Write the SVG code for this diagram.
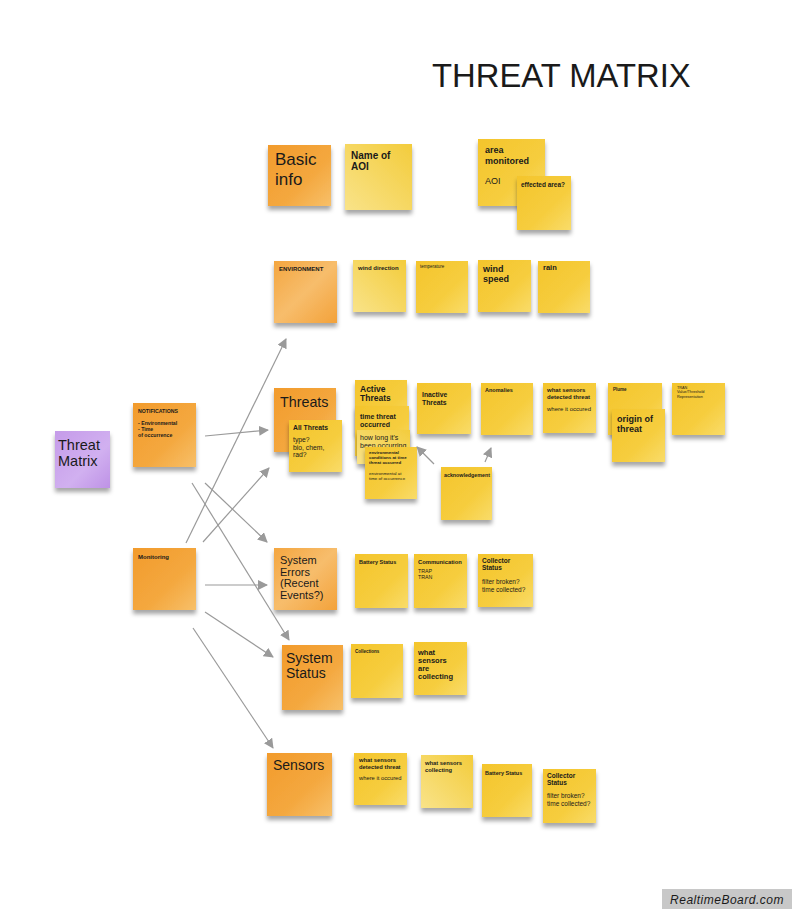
<svg xmlns="http://www.w3.org/2000/svg" width="800" height="919" viewBox="0 0 800 919">
<defs>
<linearGradient id="go" x1="0" y1="0" x2="1" y2="1"><stop offset="0" stop-color="#f29b2c"/><stop offset="0.6" stop-color="#f4a83f"/><stop offset="1" stop-color="#f7c06a"/></linearGradient>
<linearGradient id="go2" x1="0" y1="0" x2="1" y2="1"><stop offset="0" stop-color="#f4a640"/><stop offset="0.5" stop-color="#f7bd6c"/><stop offset="1" stop-color="#f3a23a"/></linearGradient>
<linearGradient id="gy" x1="0" y1="0" x2="1" y2="1"><stop offset="0" stop-color="#f4c52c"/><stop offset="0.6" stop-color="#f6cd3e"/><stop offset="1" stop-color="#f9dc6a"/></linearGradient>
<linearGradient id="gl" x1="1" y1="0" x2="0" y2="1"><stop offset="0" stop-color="#f3cc3c"/><stop offset="1" stop-color="#f9e389"/></linearGradient>
<linearGradient id="gp" x1="0" y1="0" x2="1" y2="1"><stop offset="0" stop-color="#c59be9"/><stop offset="0.6" stop-color="#d1b0f0"/><stop offset="1" stop-color="#be92e6"/></linearGradient>
<filter id="sh" x="-20%" y="-20%" width="140%" height="150%"><feDropShadow dx="0" dy="4" stdDeviation="2.2" flood-color="#000" flood-opacity="0.35"/></filter>
<marker id="ah" viewBox="0 0 10 10" refX="9" refY="5" markerWidth="10" markerHeight="10" markerUnits="userSpaceOnUse" orient="auto"><path d="M0,0 L10,5 L0,10 z" fill="#9a9a9a"/></marker>
<style>
.o{fill:url(#go);filter:url(#sh)}
.o2{fill:url(#go2);filter:url(#sh)}
.y{fill:url(#gy);filter:url(#sh)}
.l{fill:url(#gl);filter:url(#sh)}
.p{fill:url(#gp);filter:url(#sh)}
text{font-family:"Liberation Sans",Arial,sans-serif;fill:#1a1a1a}
.b{font-weight:bold}
.c line{stroke:#9a9a9a;stroke-width:1.2;marker-end:url(#ah)}
</style>
</defs>
<rect width="800" height="919" fill="#ffffff"/>
<text x="432" y="87" font-size="32.8" fill="#111">THREAT MATRIX</text>

<g id="basic-info"><rect class="o" x="268" y="145" width="63" height="61"/><text x="275" y="165" font-size="17">Basic</text><text x="275" y="184.5" font-size="17">info</text></g>
<g id="name-of-aoi"><rect class="l" x="345" y="144" width="67" height="66"/><text class="b" x="351" y="159" font-size="10">Name of</text><text class="b" x="351" y="170" font-size="10">AOI</text></g>
<g id="area-monitored"><rect class="y" x="478" y="139" width="67" height="67"/><text class="b" x="485" y="153" font-size="9">area</text><text class="b" x="485" y="163.5" font-size="9">monitored</text><text x="485" y="184" font-size="9">AOI</text></g>
<g id="effected-area"><rect class="y" x="517" y="176" width="54" height="54"/><text class="b" x="521" y="187" font-size="6.5">effected area?</text></g>

<g id="environment"><rect class="o2" x="274" y="261" width="63" height="62"/><text class="b" x="279" y="271" font-size="6">ENVIRONMENT</text></g>
<g id="wind-direction"><rect class="l" x="353" y="260" width="53" height="52"/><text class="b" x="358" y="270" font-size="6">wind direction</text></g>
<g id="temperature"><rect class="y" x="416" y="261" width="52" height="52"/><text x="420" y="268" font-size="4.5">temperature</text></g>
<g id="wind-speed"><rect class="y" x="478" y="260" width="53" height="52"/><text class="b" x="483" y="272" font-size="9">wind</text><text class="b" x="483" y="282" font-size="9">speed</text></g>
<g id="rain"><rect class="y" x="538" y="261" width="52" height="52"/><text class="b" x="543" y="270" font-size="7.5">rain</text></g>

<g id="threats"><rect class="o" x="274" y="388" width="62" height="64"/><text x="280" y="407" font-size="14.3">Threats</text></g>
<g id="all-threats"><rect class="y" x="289" y="420" width="53" height="52"/><text class="b" x="293" y="430" font-size="6.8">All Threats</text><text x="293" y="442" font-size="6.8">type?</text><text x="293" y="449.5" font-size="6.8">bio, chem,</text><text x="293" y="457" font-size="6.8">rad?</text></g>
<g id="active-threats"><rect class="y" x="355" y="380" width="52" height="54"/><text class="b" x="360" y="392" font-size="8.5">Active</text><text class="b" x="360" y="401" font-size="8.5">Threats</text></g>
<g id="time-threat-occurred"><rect class="y" x="355" y="406" width="54" height="50"/><text class="b" x="360" y="419" font-size="7">time threat</text><text class="b" x="360" y="426.5" font-size="7">occurred</text></g>
<g id="how-long"><rect class="l" x="357" y="430" width="53" height="34"/><text x="360" y="440" font-size="7">how long it's</text><text x="360" y="447.5" font-size="7">been occurring</text></g>
<g id="env-conditions"><rect class="y" x="365" y="447" width="52" height="52"/><text class="b" x="369" y="454" font-size="4.4">environmental</text><text class="b" x="369" y="459" font-size="4.4">conditions at time</text><text class="b" x="369" y="464" font-size="4.4">threat occurred</text><text x="369" y="475" font-size="4.4" fill="#444">environmental at</text><text x="369" y="480" font-size="4.4" fill="#444">time of occurrence</text></g>
<g id="inactive-threats"><rect class="y" x="417" y="383" width="54" height="51"/><text class="b" x="422" y="397" font-size="6.8">Inactive</text><text class="b" x="422" y="404.5" font-size="6.8">Threats</text></g>
<g id="anomalies"><rect class="y" x="481" y="383" width="52" height="52"/><text class="b" x="485" y="392" font-size="5.5">Anomalies</text></g>
<g id="what-sensors-detected"><rect class="y" x="543" y="383" width="53" height="50"/><text class="b" x="547" y="392" font-size="6">what sensors</text><text class="b" x="547" y="399" font-size="6">detected threat</text><text x="547" y="411" font-size="6">where it occured</text></g>
<g id="plume"><rect class="y" x="608" y="383" width="54" height="52"/><text class="b" x="613" y="391" font-size="4.5">Plume</text></g>
<g id="origin-of-threat"><rect class="y" x="612" y="409" width="53" height="53"/><text class="b" x="617" y="422" font-size="9">origin of</text><text class="b" x="617" y="431.5" font-size="9">threat</text></g>
<g id="tran"><rect class="y" x="672" y="383" width="53" height="52"/><text x="677" y="389" font-size="3.8">TRAN</text><text x="677" y="393.3" font-size="3.8">Value/Threshold</text><text x="677" y="397.6" font-size="3.8">Representation</text></g>
<g id="acknowledgement"><rect class="y" x="441" y="467" width="51" height="53"/><text class="b" x="444" y="477" font-size="5.3">acknowledgement</text></g>

<g id="threat-matrix"><rect class="p" x="55" y="431" width="55" height="57"/><text x="58" y="450" font-size="14.5">Threat</text><text x="58" y="466" font-size="14.5">Matrix</text></g>
<g id="notifications"><rect class="o" x="133" y="403" width="63" height="64"/><text class="b" x="138" y="413" font-size="5.2">NOTIFICATIONS</text><text class="b" x="138" y="425" font-size="5.2">- Environmental</text><text class="b" x="138" y="431" font-size="5.2">- Time</text><text class="b" x="138" y="437" font-size="5.2">of occurrence</text></g>
<g id="monitoring"><rect class="o" x="133" y="548" width="63" height="62"/><text class="b" x="138" y="559" font-size="6">Monitoring</text></g>

<g id="system-errors"><rect class="o2" x="274" y="548" width="63" height="62"/><text x="280" y="564" font-size="11">System</text><text x="280" y="575.5" font-size="11">Errors</text><text x="280" y="587" font-size="11">(Recent</text><text x="280" y="598.5" font-size="11">Events?)</text></g>
<g id="battery-status-1"><rect class="y" x="355" y="554" width="53" height="54"/><text class="b" x="359" y="564" font-size="5.5">Battery Status</text></g>
<g id="communication"><rect class="y" x="414" y="554" width="53" height="54"/><text class="b" x="418" y="564" font-size="5.8">Communication</text><text x="418" y="573" font-size="5.3">TRAP</text><text x="418" y="579" font-size="5.3">TRAN</text></g>
<g id="collector-status-1"><rect class="y" x="478" y="554" width="55" height="53"/><text class="b" x="482" y="563" font-size="6.5">Collector</text><text class="b" x="482" y="570" font-size="6.5">Status</text><text x="482" y="584" font-size="6.5">filter broken?</text><text x="482" y="591.5" font-size="6.5">time collected?</text></g>

<g id="system-status"><rect class="o" x="282" y="645" width="61" height="65"/><text x="286" y="663" font-size="14">System</text><text x="286" y="678" font-size="14">Status</text></g>
<g id="collections"><rect class="y" x="351" y="644" width="52" height="54"/><text class="b" x="355" y="653" font-size="4.5">Collections</text></g>
<g id="what-sensors-are-collecting"><rect class="y" x="414" y="642" width="53" height="53"/><text class="b" x="418" y="655" font-size="7.5">what</text><text class="b" x="418" y="663" font-size="7.5">sensors</text><text class="b" x="418" y="671" font-size="7.5">are</text><text class="b" x="418" y="679" font-size="7.5">collecting</text></g>

<g id="sensors"><rect class="o" x="267" y="753" width="65" height="63"/><text x="273" y="770" font-size="14">Sensors</text></g>
<g id="sensors-detected"><rect class="y" x="354" y="753" width="53" height="52"/><text class="b" x="359" y="762" font-size="5.8">what sensors</text><text class="b" x="359" y="769" font-size="5.8">detected threat</text><text x="359" y="780" font-size="5.8">where it occured</text></g>
<g id="sensors-collecting"><rect class="l" x="421" y="755" width="52" height="53"/><text class="b" x="425" y="765" font-size="5.8">what sensors</text><text class="b" x="425" y="771.5" font-size="5.8">collecting</text></g>
<g id="battery-status-2"><rect class="y" x="482" y="764" width="50" height="53"/><text class="b" x="485" y="775" font-size="5.5">Battery Status</text></g>
<g id="collector-status-2"><rect class="y" x="543" y="769" width="53" height="54"/><text class="b" x="547" y="778" font-size="6.5">Collector</text><text class="b" x="547" y="785" font-size="6.5">Status</text><text x="547" y="798" font-size="6.5">filter broken?</text><text x="547" y="805.5" font-size="6.5">time collected?</text></g>

<g id="connectors" class="c">
<line x1="186" y1="543" x2="286" y2="339"/>
<line x1="205" y1="436" x2="268" y2="430"/>
<line x1="192" y1="483" x2="289" y2="640"/>
<line x1="205" y1="483" x2="267" y2="542"/>
<line x1="203" y1="542" x2="269" y2="468"/>
<line x1="205" y1="585" x2="267" y2="585"/>
<line x1="205" y1="612" x2="273" y2="657"/>
<line x1="193" y1="628" x2="273" y2="748"/>
<line x1="434" y1="464" x2="417" y2="447"/>
<line x1="485" y1="462" x2="491" y2="448"/>
</g>

<g id="logo"><rect x="662" y="889" width="130" height="20" fill="#c8c8c8"/><text x="727" y="903.5" font-size="12" font-style="italic" text-anchor="middle" fill="#ffffff" letter-spacing="0.5">RealtimeBoard.com</text></g>
</svg>
